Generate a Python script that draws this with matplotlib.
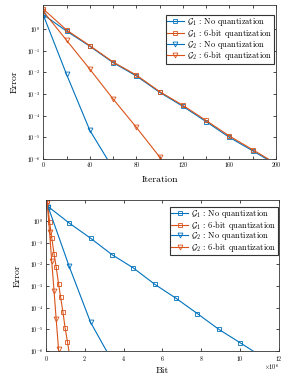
import matplotlib
matplotlib.use('Agg')
import matplotlib.pyplot as plt
from matplotlib.ticker import NullLocator, FixedLocator

plt.rcParams['mathtext.fontset'] = 'cm'
plt.rcParams['font.family'] = 'serif'
plt.rcParams['font.serif'] = ['cmr10', 'DejaVu Serif']
plt.rcParams['axes.formatter.use_mathtext'] = True

# Data
iters = [0, 20, 40, 60, 80, 100, 120, 140, 160, 180, 200]
g1_noq = [4.6, 0.8, 0.16, 0.028, 0.0068, 0.0012, 2.7e-4, 5.3e-5, 1.0e-5, 2.4e-6, 5.6e-7]
g1_6b = [8.3, 0.9, 0.17, 0.030, 0.0075, 0.0013, 3.0e-4, 6.0e-5, 1.15e-5, 2.7e-6, 6.2e-7]

iters_g2_noq = [0, 20, 40, 60]
g2_noq = [4.4, 0.008, 2.1e-5, 3.6e-7]

iters_g2_6b = [0, 20, 40, 60, 80, 100, 120]
g2_6b = [6.5, 0.3, 0.014, 5.9e-4, 2.9e-5, 1.25e-6, 6e-8]

# bits (x 10^6) spent at the same marker points
bits_noq = [0.12, 1.2, 2.3, 3.4, 4.5, 5.6, 6.7, 7.8, 8.9, 10.0, 11.1]
bits_6b = [0.07, 0.19, 0.30, 0.42, 0.53, 0.65, 0.76, 0.88, 0.99, 1.11, 1.22]

labels = [r'$\mathcal{G}_1$ : No quantization',
          r'$\mathcal{G}_1$ : 6-bit quantization',
          r'$\mathcal{G}_2$ : No quantization',
          r'$\mathcal{G}_2$ : 6-bit quantization']

blue = '#0072BD'
orange = '#D95319'
lw = 0.8
ms = 3


def style(ax, anchor):
    ax.set_yscale('log')
    ax.yaxis.set_minor_locator(NullLocator())
    ax.yaxis.set_major_locator(FixedLocator([1e-6, 1e-5, 1e-4, 1e-3, 1e-2, 1e-1, 1e0]))
    ax.tick_params(which='both', direction='in', top=True, right=True,
                   labelsize=4.3, length=2, width=0.5, pad=2)
    for s in ax.spines.values():
        s.set_linewidth(0.6)
        s.set_color('#333333')
    leg = ax.legend(labels, loc='upper right', bbox_to_anchor=anchor,
                    fontsize=6.1, numpoints=1,
                    fancybox=False, framealpha=1, edgecolor='#333333',
                    handlelength=2.0, borderpad=0.15, labelspacing=-0.15,
                    handletextpad=0.4, borderaxespad=0)
    leg.get_frame().set_linewidth(0.8)


fig = plt.figure(figsize=(2.85, 3.75), dpi=100)

# Top: error vs iteration
ax1 = fig.add_axes([0.152, 0.576, 0.816, 0.411])
ax1.plot(iters, g1_noq, color=blue, marker='s', mfc='none', ms=ms, lw=lw, mew=0.6)
ax1.plot(iters, g1_6b, color=orange, marker='s', mfc='none', ms=ms, lw=lw, mew=0.6)
ax1.plot(iters_g2_noq, g2_noq, color=blue, marker='v', mfc='none', ms=ms + 0.5, lw=lw, mew=0.6)
ax1.plot(iters_g2_6b, g2_6b, color=orange, marker='v', mfc='none', ms=ms + 0.5, lw=lw, mew=0.6)
ax1.set_xlim(0, 200)
ax1.set_ylim(1e-6, 13)
ax1.set_xticks(range(0, 201, 20))
ax1.set_xticklabels([str(v) if v % 40 == 0 else '' for v in range(0, 201, 20)])
style(ax1, (0.99, 0.935))
ax1.set_xlabel('Iteration', fontsize=7, labelpad=6)
ax1.set_ylabel('Error', fontsize=7, labelpad=6)

# Bottom: error vs bits
ax2 = fig.add_axes([0.161, 0.064, 0.818, 0.403])
ax2.plot(bits_noq, g1_noq, color=blue, marker='s', mfc='none', ms=ms, lw=lw, mew=0.6)
ax2.plot(bits_6b, g1_6b, color=orange, marker='s', mfc='none', ms=ms, lw=lw, mew=0.6)
ax2.plot(bits_noq[:len(g2_noq)], g2_noq, color=blue, marker='v', mfc='none', ms=ms + 0.5, lw=lw, mew=0.6)
ax2.plot(bits_6b[:len(g2_6b)], g2_6b, color=orange, marker='v', mfc='none', ms=ms + 0.5, lw=lw, mew=0.6)
ax2.set_xlim(0, 12)
ax2.set_ylim(1e-6, 9.4)
ax2.set_xticks(range(0, 13, 2))
style(ax2, (0.995, 0.955))
ax2.set_xlabel('Bit', fontsize=7, labelpad=3)
ax2.set_ylabel('Error', fontsize=7, labelpad=6)
ax2.text(1.0, -0.075, r'$\times 10^6$', transform=ax2.transAxes,
         ha='right', va='top', fontsize=4.5)

fig.savefig('out.png', dpi=100)
